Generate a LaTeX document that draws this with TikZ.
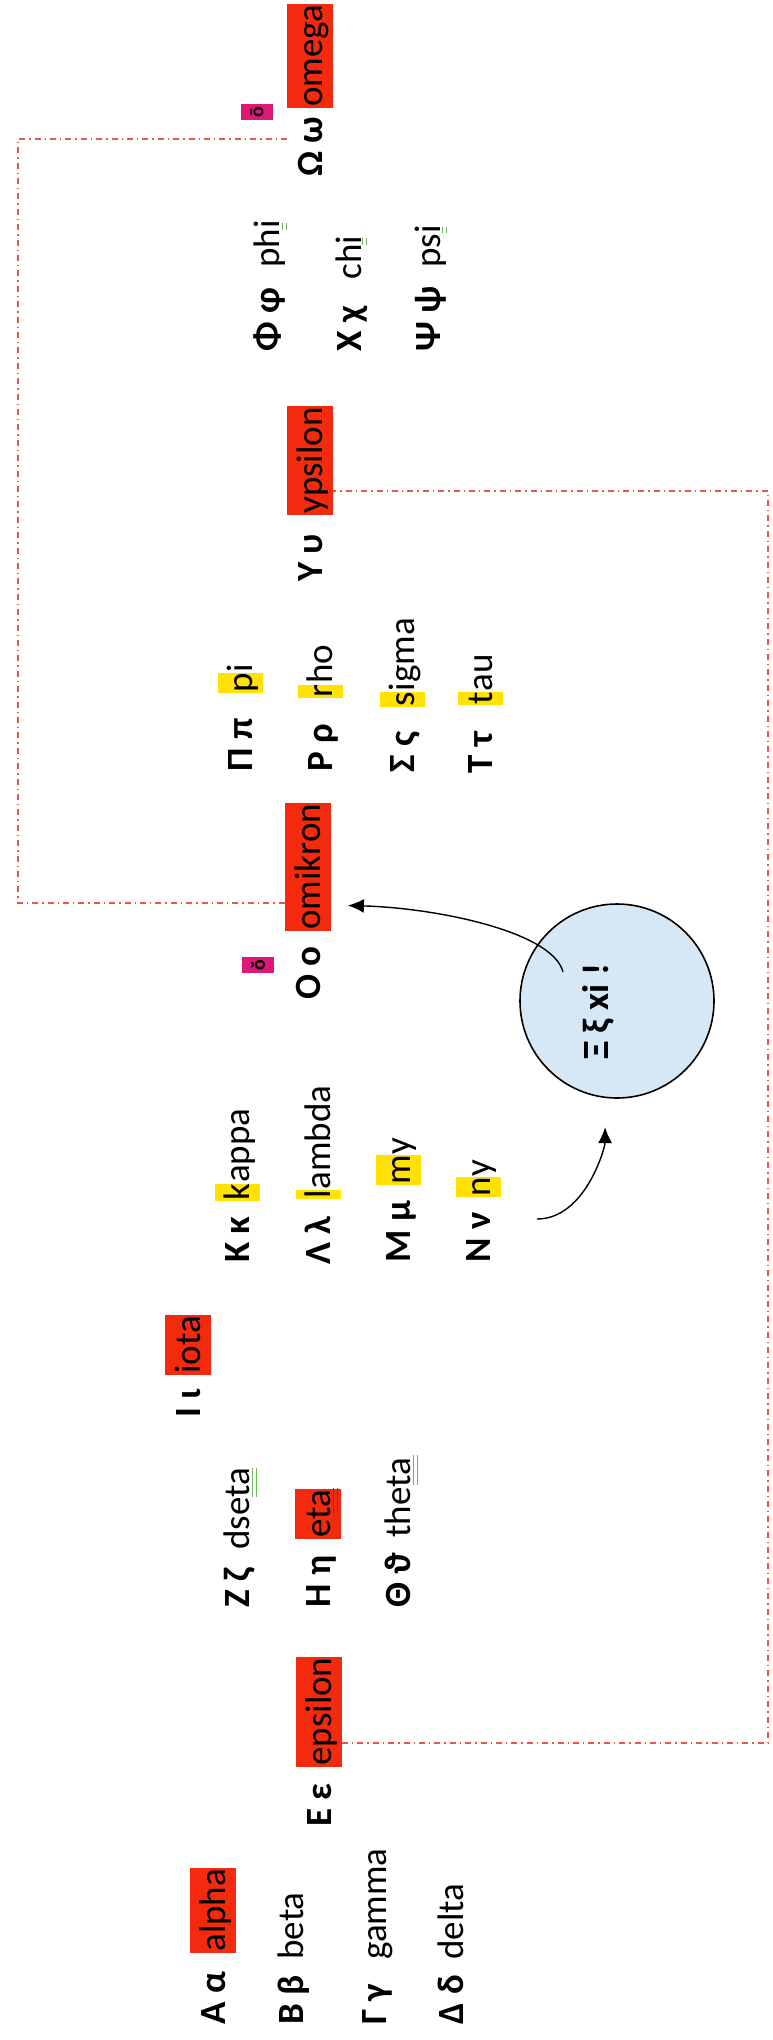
\documentclass[tikz,border=0pt]{standalone}
\usepackage{fontspec}
\setmainfont{Carlito}
\usetikzlibrary{calc,arrows.meta}
\definecolor{hred}{RGB}{244,42,14}
\definecolor{hyel}{RGB}{255,226,0}
\definecolor{hmag}{RGB}{222,24,120}
\definecolor{lnk}{RGB}{236,84,72}
\definecolor{grn}{RGB}{110,185,90}
\definecolor{dgrn}{RGB}{70,90,30}
\definecolor{cfill}{RGB}{214,232,246}
\begin{document}
\begin{tikzpicture}[x=0.5pt,y=-0.5pt,
  base/.style={inner sep=0pt, rotate=90, font=\fontsize{18.5}{22}\selectfont},
  gk/.style={base, anchor=base west, font=\fontsize{18.5}{22}\selectfont\bfseries},
  wd/.style={base, anchor=base west},
  hlr/.style={base, anchor=base west, fill=hred, text height=17.5pt, text depth=5.25pt, inner xsep=0.5pt},
  hly/.style={base, anchor=base west, fill=hyel, text height=17pt, text depth=5.5pt},
  hlm/.style={base, fill=hmag, font=\fontsize{10}{12}\selectfont\bfseries, minimum width=8pt, minimum height=16pt},
  link/.style={draw=lnk, line width=0.6pt, dash pattern=on 3pt off 2pt on 0.7pt off 2pt},
  arr/.style={-{Latex[length=8pt,width=7pt]}, line width=0.7pt},
  gmark/.style={draw=grn, line width=0.5pt},
  dmark/.style={draw=dgrn, line width=0.5pt}]
\useasboundingbox (0,0) rectangle (772,2040);

% alpha block
\node[gk] (Ag) at (225,2025) {Α α};
\node[hlr] (alpha) at (225,1953) {alpha};
\node[gk] (Bg) at (303,2025) {Β β};
\node[wd] (beta) at (303,1960) {beta};
\node[gk] (Gg) at (386,2025) {Γ γ};
\node[wd] (gamma) at (386,1960) {gamma};
\node[gk] (Dg) at (463,2025) {Δ δ};
\node[wd] (delta) at (463,1960) {delta};

% epsilon
\node[gk] (Eg) at (331,1827) {Ε ε};
\node[hlr] (eps) at (331,1767) {epsilon};

% zeta eta theta
\node[gk] (Zg) at (249,1608) {Ζ ζ};
\node[wd] (dseta) at (249,1550) {dseta};
\node[gk] (Hg) at (330,1608) {Η η};
\node[hlr] (eta) at (330,1539) {eta};
\node[gk] (Tg) at (410,1608) {Θ ϑ};
\node[wd] (theta) at (410,1538) {theta};

% iota
\node[gk] (Ig) at (200,1418) {Ι ι};
\node[hlr] (iota) at (200,1375) {iota};

% kappa lambda my ny
\node[gk] (Kg) at (249,1263) {Κ κ};
\node[hly] (ka) at (249,1201) {k};
\node[wd] (kb) at (ka.base east) {appa};
\node[gk] (Lg) at (330,1265) {Λ λ};
\node[hly] (la) at (330,1199) {l};
\node[wd] (lb) at (la.base east) {ambda};
\node[gk] (Mg) at (410,1263) {Μ μ};
\node[hly] (ma) at (410,1185) {m};
\node[wd] (mb) at (ma.base east) {y};
\node[gk] (Ng) at (490,1263) {Ν ν};
\node[hly] (na) at (490,1197) {n};
\node[wd] (nb) at (na.base east) {y};

% omikron
\node[gk] (Og) at (320,1000) {Ο ο};
\node[hlr] (omk) at (320,931) {omikron};
\node[hlm] (ob) at (258,965) {ŏ};

% xi circle
\node[draw, circle, fill=cfill, minimum size=97pt, inner sep=0pt, line width=0.8pt] (xi) at (617,1001) {};
\node[gk] (xit) at (608,1060) {Ξ ξ xi !};

% pi rho sigma tau
\node[gk] (Pg) at (252,772) {Π π};
\node[hly] (pa) at (252,693) {p};
\node[wd] (pb) at (pa.base east) {i};
\node[gk] (Rg) at (332,772) {Ρ ρ};
\node[hly] (ra) at (332,698) {r};
\node[wd] (rb) at (ra.base east) {ho};
\node[gk] (Sg) at (414,773) {Σ ς};
\node[hly] (sa) at (414,707) {s};
\node[wd] (sb) at (sa.base east) {igma};
\node[gk] (Tag) at (492,774) {Τ τ};
\node[hly] (ta) at (492,705) {t};
\node[wd] (tb) at (ta.base east) {au};

% ypsilon
\node[gk] (Yg) at (322,582) {Υ υ};
\node[hlr] (yps) at (322,515) {ypsilon};

% phi chi psi
\node[gk] (Fg) at (279,352) {Φ φ};
\node[wd] (phi) at (279,268) {phi};
\node[gk] (Xg) at (361,352) {Χ χ};
\node[wd] (chi) at (361,280) {chi};
\node[gk] (Psg) at (440,352) {Ψ ψ};
\node[wd] (psi) at (440,268) {psi};

% omega
\node[gk] (omg) at (322,177) {Ω ω};
\node[hlr] (omega) at (322,108) {omega};
\node[hlm] (oo) at (257,112) {ō};

% green marks
\draw[gmark] (252,1468) -- (252,1497) (256,1468) -- (256,1497);
\draw[dmark] (333,1488) -- (333,1513) (337,1488) -- (337,1513);
\draw[gmark] (413,1455) -- (413,1485) (417,1455) -- (417,1485);
\draw[gmark] (282,223) -- (282,230) (286,223) -- (286,230);
\draw[gmark] (362,238) -- (362,245) (366,238) -- (366,245);
\draw[gmark] (442,227) -- (442,233) (446,227) -- (446,233);

% connectors
\coordinate (cR) at (768,0);
\coordinate (cL) at (18,0);
\coordinate (epsx) at ($(eps.south west)+(0,-24)$);
\coordinate (ypsx) at ($(yps.south west)+(0,-24)$);
\coordinate (omkx) at ($(omk.north west)+(0,-28)$);
\coordinate (omgx) at ($(omg.base west)+(-34,-38)$);
\draw[link] (epsx) -- (epsx -| cR) -- (ypsx -| cR) -- (ypsx);
\draw[link] (omkx) -- (omkx -| cL) -- (omgx -| cL) -- (omgx);

% arrows
\coordinate (xa) at (563,972);
\draw[arr, shorten >=8.5pt] (xa) .. controls +(-10,-40) and +(107,3) .. ($(omk.south west)+(0,-26)$);
\coordinate (nya) at (537,1219);
\draw[arr, shorten >=14.5pt] (nya) .. controls +(48,0) and +(0,50) .. (xi.263);
\end{tikzpicture}
\end{document}
